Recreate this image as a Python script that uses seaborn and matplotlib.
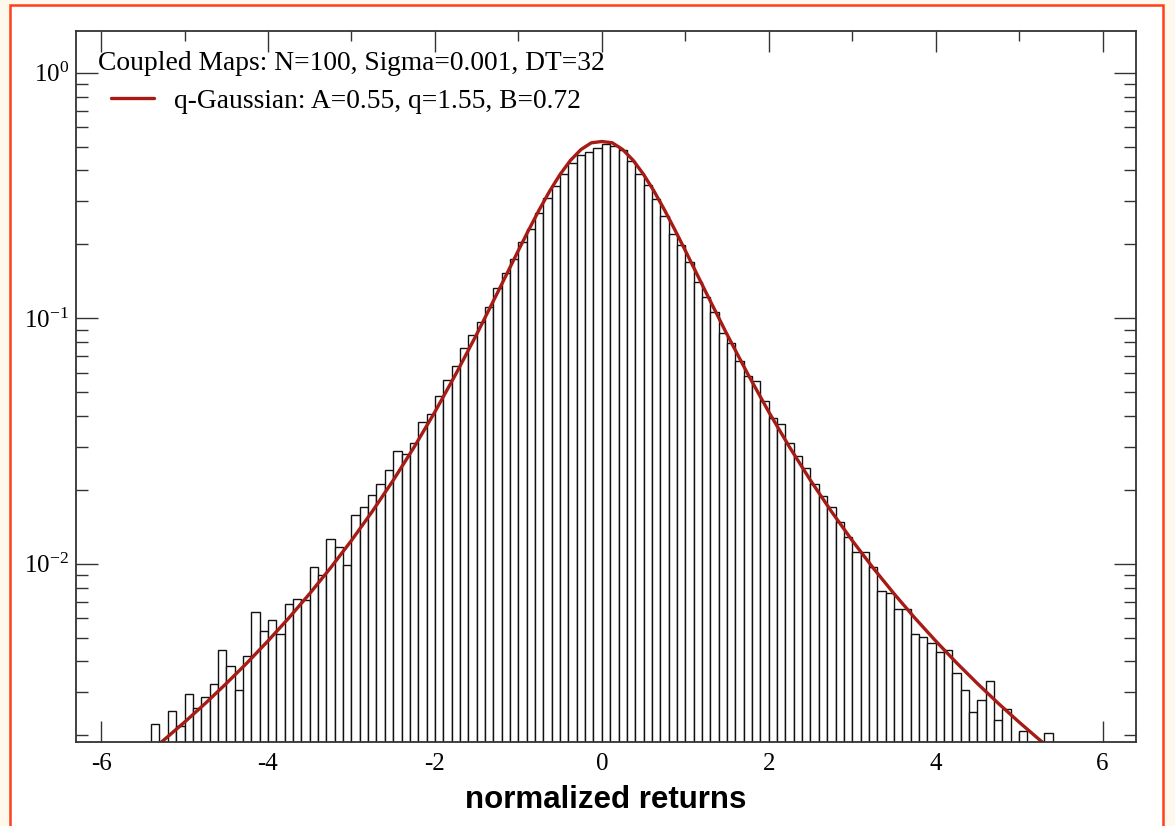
import numpy as np
import pandas as pd
import matplotlib
matplotlib.use("Agg")
import matplotlib.pyplot as plt
from matplotlib.patches import Rectangle
from matplotlib.lines import Line2D
from matplotlib.ticker import LogLocator, NullFormatter, FixedLocator
import seaborn as sns

# ---------------- data ----------------
bin_edges = [round(v, 2) for v in np.arange(-5.4, 5.4001, 0.1)]

density_neg = [  # bins -5.4 ... -0.1
    0.00222, 0.0, 0.00252, 0.00218, 0.00295, 0.00258, 0.00288, 0.00324, 0.00447, 0.00382,
    0.00305, 0.00420, 0.00637, 0.00533, 0.00591, 0.00517, 0.00687, 0.00718, 0.00713, 0.00975,
    0.00902, 0.01262, 0.01176, 0.0099, 0.0158, 0.0170, 0.0190, 0.0212, 0.0240, 0.0289,
    0.0280, 0.0310, 0.0378, 0.0407, 0.0481, 0.0562, 0.0641, 0.0757, 0.0857, 0.0966,
    0.1107, 0.1328, 0.153, 0.175, 0.205, 0.232, 0.268, 0.308, 0.346, 0.386,
    0.430, 0.463, 0.478, 0.493,
]
density_pos = [  # bins 0.0 ... 5.3
    0.512, 0.503, 0.483, 0.437, 0.386, 0.350, 0.305, 0.262, 0.220, 0.198,
    0.170, 0.140, 0.122, 0.1056, 0.0871, 0.0793, 0.0667, 0.0583, 0.0553, 0.0461,
    0.0394, 0.0372, 0.0310, 0.0275, 0.0245, 0.0212, 0.0188, 0.0170, 0.0148, 0.0128,
    0.01117, 0.01117, 0.00975, 0.00773, 0.00760, 0.00656, 0.00656, 0.00518, 0.00501, 0.00475,
    0.00437, 0.00446, 0.00359, 0.00305, 0.00250, 0.00278, 0.00334, 0.00232, 0.00257, 0.0,
    0.00208, 0.0, 0.0, 0.00205,
]

curve_x = [-5.5, -5.25, -5.0, -4.75, -4.5, -4.25, -4.0, -3.75, -3.5, -3.25, -3.0, -2.75,
           -2.5, -2.25, -2.0, -1.75, -1.5, -1.25, -1.0, -0.875, -0.75, -0.625, -0.5,
           -0.375, -0.25, -0.125, 0.0, 0.125, 0.25, 0.375, 0.5, 0.625, 0.75, 0.875, 1.0,
           1.25, 1.5, 1.75, 2.0, 2.25, 2.5, 2.75, 3.0, 3.25, 3.5, 3.75, 4.0, 4.25, 4.5,
           4.75, 5.0, 5.25, 5.5]
curve_y = [0.001626, 0.001912, 0.002264, 0.002702, 0.003253, 0.003951, 0.004851, 0.006017,
           0.007563, 0.009625, 0.01244, 0.01635, 0.02187, 0.02983, 0.04156, 0.0592, 0.0860,
           0.1271, 0.1889, 0.2294, 0.2767, 0.3297, 0.3857, 0.4402, 0.4869, 0.5187, 0.525,
           0.5187, 0.4869, 0.4402, 0.3857, 0.3297, 0.2767, 0.2294, 0.1889, 0.1271, 0.0860,
           0.0592, 0.04156, 0.02983, 0.02187, 0.01635, 0.01244, 0.009625, 0.007563, 0.006017,
           0.004851, 0.003951, 0.003253, 0.002702, 0.002264, 0.001912, 0.001626]

x_ticks = [-6, -4, -2, 0, 2, 4, 6]
x_tick_labels = ["-6", "-4", "-2", "0", "2", "4", "6"]
x_minor_ticks = [-5, -3, -1, 1, 3, 5]
data_label = "Coupled Maps: N=100, Sigma=0.001, DT=32"
fit_label = "q-Gaussian: A=0.55, q=1.55, B=0.72"
x_label = "normalized returns"

# ---------------- style ----------------
sns.set_style("ticks")
plt.rcParams["font.family"] = ["Liberation Serif", "DejaVu Serif"]
plt.rcParams["mathtext.fontset"] = "stix"
plt.rcParams["axes.unicode_minus"] = False
plt.rcParams["text.color"] = "black"
plt.rcParams["axes.labelcolor"] = "black"
plt.rcParams["xtick.labelcolor"] = "black"
plt.rcParams["ytick.labelcolor"] = "black"

W, H = 1175, 826
fig = plt.figure(figsize=(W / 100, H / 100), dpi=100, facecolor="#FFF8EC")
fig.add_artist(Rectangle((10 / W, -0.02), (1163 - 10) / W, 1.02 - 5 / H,
                         transform=fig.transFigure, facecolor="white",
                         edgecolor="#FF3F1A", linewidth=1.8, zorder=-5))

L, R, T, B = 76, 1136, 31, 742
ax = fig.add_axes([L / W, 1 - B / H, (R - L) / W, (B - T) / H])
ax.set_facecolor("white")
ax.set_yscale("log")

density = np.array(density_neg + density_pos)
centers = [(a + b) / 2 for a, b in zip(bin_edges[:-1], bin_edges[1:])]
hist_df = pd.DataFrame({"ret": centers, "dens": density})

sns.histplot(data=hist_df, x="ret", weights="dens", bins=bin_edges, stat="count",
             element="bars", fill=True, color="white", alpha=1.0,
             edgecolor="#111111", linewidth=1.0, ax=ax)
line_color = "#A61B16"
sns.lineplot(x=curve_x, y=curve_y, color=line_color, linewidth=2.4,
             sort=False, estimator=None, ax=ax)

ax.set_xlim(-6.3, 6.4)
ax.set_ylim(0.00188, 1.48)

ax.set_xticks(x_ticks)
ax.set_xticklabels(x_tick_labels)
ax.xaxis.set_minor_locator(FixedLocator(x_minor_ticks))
ax.yaxis.set_major_locator(LogLocator(base=10, numticks=10))
ax.yaxis.set_minor_locator(LogLocator(base=10, subs=np.arange(2, 10), numticks=20))
ax.yaxis.set_minor_formatter(NullFormatter())

ax.tick_params(which="both", direction="in", top=True, right=True,
               color="#333333", width=1.0, labelcolor="black")
ax.tick_params(axis="x", which="major", length=15, labelsize=18, pad=8)
ax.tick_params(axis="x", which="minor", length=7.5)
ax.tick_params(axis="y", which="major", length=15.5, labelsize=18, pad=5)
ax.tick_params(axis="y", which="minor", length=8.5)
for s in ax.spines.values():
    s.set_color("#333333")
    s.set_linewidth(1.3)

ax.set_ylabel("")
ax.set_xlabel(x_label, fontsize=22.5, fontweight="bold", color="black",
              family=["Liberation Sans", "DejaVu Sans"])
ax.xaxis.set_label_coords(0.5, -0.061)
ax.xaxis.label.set_va("top")

# legend-like labels
ax.text((98 - L) / (R - L), (B - 70) / (B - T), data_label, fontsize=19.8,
        color="black", va="baseline", ha="left", transform=ax.transAxes)
handles = [Line2D([], [], color=line_color, linewidth=2.4)]
leg = ax.legend(handles, [fit_label], loc="center left",
                bbox_to_anchor=((111 - L) / (R - L), (B - 101) / (B - T)),
                frameon=False, prop={"family": "Liberation Serif", "size": 19.8},
                handlelength=1.55, handletextpad=0.75, borderpad=0, borderaxespad=0)
for t in leg.get_texts():
    t.set_color("black")

fig.savefig("out.png", dpi=100, facecolor=fig.get_facecolor())
